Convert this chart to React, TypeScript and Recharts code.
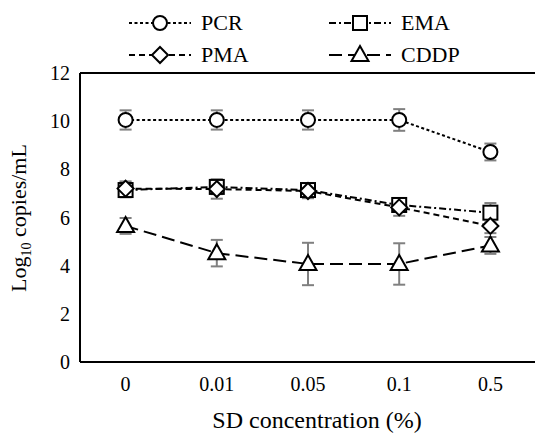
import React from 'react';
import { LineChart, Line, XAxis, YAxis, ErrorBar, ReferenceLine } from 'recharts';

const categories = ['0', '0.01', '0.05', '0.1', '0.5'];
const pcr = [10.05, 10.05, 10.05, 10.05, 8.72];
const pcrErr = [0.4, 0.4, 0.4, 0.45, 0.35];
const ema = [7.14, 7.27, 7.14, 6.52, 6.2];
const emaErr = [0.3, 0.3, 0.25, 0.25, 0.4];
const pma = [7.2, 7.18, 7.1, 6.42, 5.65];
const pmaErr = [0.3, 0.4, 0.3, 0.35, 0.3];
const cddp = [5.65, 4.52, 4.07, 4.07, 4.84];
const cddpErr = [0.33, 0.55, 0.88, 0.86, 0.35];
const yTicks = [0, 2, 4, 6, 8, 10, 12];

const FONT = '"Liberation Serif", "Times New Roman", serif';

type Shape = 'circle' | 'square' | 'diamond' | 'triangle';

const series: { key: string; name: string; dash: string; shape: Shape }[] = [
  { key: 'pcr', name: 'PCR', dash: '3 2.5', shape: 'circle' },
  { key: 'ema', name: 'EMA', dash: '7 3 2 3', shape: 'square' },
  { key: 'pma', name: 'PMA', dash: '6 4', shape: 'diamond' },
  { key: 'cddp', name: 'CDDP', dash: '13 6', shape: 'triangle' },
];

const data = categories.map((c, i) => ({
  c,
  pcr: pcr[i],
  pcrErr: pcrErr[i],
  ema: ema[i],
  emaErr: emaErr[i],
  pma: pma[i],
  pmaErr: pmaErr[i],
  cddp: cddp[i],
  cddpErr: cddpErr[i],
}));

function Marker({ shape, cx, cy }: { shape: Shape; cx: number; cy: number }) {
  const common = { fill: '#fff', stroke: '#000', strokeWidth: 2 };
  if (shape === 'circle') return <circle cx={cx} cy={cy} r={7} {...common} />;
  if (shape === 'square') return <rect x={cx - 7} y={cy - 7} width={14} height={14} {...common} />;
  if (shape === 'diamond')
    return <polygon points={`${cx},${cy - 8} ${cx + 8},${cy} ${cx},${cy + 8} ${cx - 8},${cy}`} {...common} />;
  return <polygon points={`${cx},${cy - 9} ${cx + 8.5},${cy + 6} ${cx - 8.5},${cy + 6}`} {...common} />;
}

const dotFor = (shape: Shape) => (props: any) => {
  const { cx, cy, index } = props;
  if (cx == null || cy == null) return <g key={index} />;
  return <Marker key={index} shape={shape} cx={cx} cy={cy} />;
};

// legend drawn by hand, two columns x two rows like the original
function ChartLegend() {
  return (
    <svg width={535} height={72} style={{ position: 'absolute', left: 0, top: 0 }}>
      {series.map((s, i) => {
        const x0 = i % 2 === 0 ? 129 : 329;
        const y = i < 2 ? 23 : 55;
        return (
          <g key={s.key}>
            <line x1={x0} x2={x0 + 62} y1={y} y2={y} stroke="#000" strokeWidth={2} strokeDasharray={s.dash} />
            <Marker shape={s.shape} cx={x0 + 31} cy={y} />
            <text x={x0 + 72} y={y + 7} fontFamily={FONT} fontSize={22} fill="#000">
              {s.name}
            </text>
          </g>
        );
      })}
    </svg>
  );
}

function YLabel() {
  return (
    <text transform="translate(26, 218) rotate(-90)" textAnchor="middle" fontFamily={FONT} fontSize={22} fill="#000">
      Log
      <tspan fontSize={14} dy={5}>10</tspan>
      <tspan dy={-5}> copies/mL</tspan>
    </text>
  );
}

function XLabel() {
  return (
    <text x={317} y={428} textAnchor="middle" fontFamily={FONT} fontSize={24} fill="#000">
      SD concentration (%)
    </text>
  );
}

export default function App() {
  return (
    <div style={{ position: 'absolute', left: 0, top: 0, width: 535, height: 434, overflow: 'hidden', background: '#fff' }}>
      <LineChart
        width={546}
        height={434}
        data={data}
        margin={{ top: 73, right: 10, bottom: 42, left: 0 }}
        style={{ fontFamily: FONT }}
      >
        <XAxis
          dataKey="c"
          scale="band"
          height={30}
          tickLine={false}
          axisLine={{ stroke: '#000', strokeWidth: 2 }}
          tick={{ fill: '#000', fontSize: 20, fontFamily: FONT }}
          tickMargin={9}
          label={<XLabel />}
        />
        <YAxis
          width={80}
          domain={[0, 12]}
          ticks={yTicks}
          tickLine={false}
          axisLine={{ stroke: '#000', strokeWidth: 2 }}
          tick={{ fill: '#000', fontSize: 20, fontFamily: FONT }}
          tickMargin={4}
          label={<YLabel />}
        />
        <ReferenceLine y={12} stroke="#000" strokeWidth={2} />
        {series.map((s) => (
          <Line
            key={s.key}
            dataKey={s.key}
            name={s.name}
            type="linear"
            stroke="#000"
            strokeWidth={2}
            strokeDasharray={s.dash}
            dot={dotFor(s.shape)}
            activeDot={false}
            isAnimationActive={false}
          >
            <ErrorBar dataKey={`${s.key}Err`} direction="y" width={6} stroke="#808080" strokeWidth={2} />
          </Line>
        ))}
      </LineChart>
      <ChartLegend />
    </div>
  );
}
